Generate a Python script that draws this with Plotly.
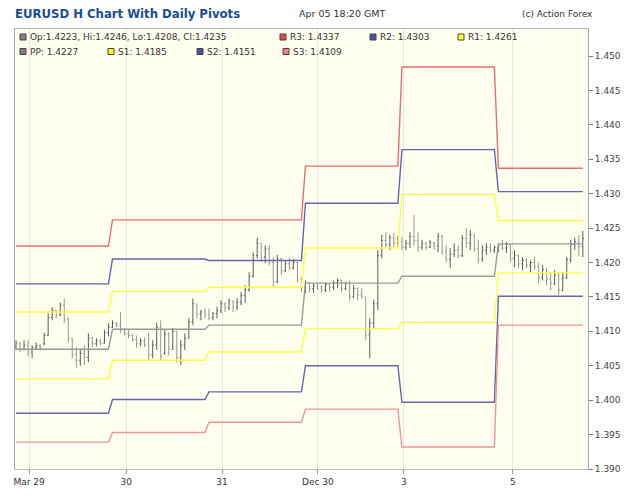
import plotly.graph_objects as go

# ---------------- data ----------------
opens = [
    1.4078,1.4083,1.4074,1.4080,1.4070,1.4076,1.4079,1.4082,1.4094,1.4120,1.4130,1.4124,1.4138,1.4118,1.4090,1.4066,1.4058,1.4068,1.4062,1.4090,1.4082,1.4086,1.4083,1.4098,
    1.4106,1.4112,1.4109,1.4102,1.4097,1.4094,1.4088,1.4082,1.4086,1.4080,1.4066,1.4080,1.4106,1.4068,1.4096,1.4074,1.4100,1.4062,1.4080,1.4090,1.4114,1.4140,1.4125,1.4128,
    1.4124,1.4120,1.4126,1.4130,1.4140,1.4134,1.4144,1.4135,1.4142,1.4152,1.4160,1.4180,1.4210,1.4228,1.4208,1.4220,1.4200,1.4172,1.4205,1.4188,1.4198,1.4192,1.4200,1.4176,
    1.4164,1.4170,1.4162,1.4166,1.4163,1.4160,1.4168,1.4164,1.4171,1.4174,1.4162,1.4170,1.4150,1.4162,1.4153,1.4150,1.4095,1.4112,1.4140,1.4210,1.4232,1.4226,1.4236,1.4228,
    1.4230,1.4222,1.4228,1.4238,1.4232,1.4222,1.4228,1.4222,1.4229,1.4224,1.4238,1.4215,1.4205,1.4212,1.4218,1.4210,1.4235,1.4228,1.4240,1.4220,1.4205,1.4218,1.4222,1.4218,
    1.4222,1.4225,1.4221,1.4226,1.4206,1.4210,1.4198,1.4203,1.4196,1.4200,1.4194,1.4178,1.4190,1.4176,1.4170,1.4182,1.4160,1.4178,1.4204,1.4226,1.4230,1.4223,
]
highs = [
    1.4087,1.4084,1.4087,1.4087,1.4080,1.4084,1.4082,1.4098,1.4126,1.4135,1.4131,1.4142,1.4148,1.4120,1.4090,1.4077,1.4073,1.4080,1.4097,1.4092,1.4090,1.4089,1.4102,1.4112,
    1.4116,1.4113,1.4128,1.4105,1.4102,1.4096,1.4094,1.4090,1.4091,1.4098,1.4087,1.4113,1.4116,1.4102,1.4099,1.4105,1.4100,1.4087,1.4097,1.4119,1.4148,1.4140,1.4131,1.4134,
    1.4133,1.4128,1.4136,1.4145,1.4142,1.4148,1.4145,1.4148,1.4157,1.4167,1.4186,1.4215,1.4236,1.4228,1.4225,1.4225,1.4208,1.4211,1.4207,1.4203,1.4207,1.4205,1.4201,1.4179,
    1.4174,1.4171,1.4169,1.4170,1.4167,1.4171,1.4169,1.4174,1.4177,1.4175,1.4172,1.4174,1.4167,1.4164,1.4163,1.4150,1.4119,1.4146,1.4218,1.4240,1.4244,1.4240,1.4243,1.4238,
    1.4237,1.4233,1.4244,1.4269,1.4244,1.4233,1.4230,1.4233,1.4230,1.4243,1.4240,1.4225,1.4221,1.4228,1.4225,1.4240,1.4250,1.4247,1.4241,1.4233,1.4225,1.4228,1.4228,1.4225,
    1.4228,1.4233,1.4230,1.4226,1.4218,1.4211,1.4208,1.4206,1.4203,1.4208,1.4200,1.4196,1.4192,1.4186,1.4189,1.4185,1.4186,1.4208,1.4233,1.4236,1.4240,1.4246,
]
lows = [
    1.4073,1.4070,1.4072,1.4064,1.4061,1.4073,1.4072,1.4080,1.4093,1.4116,1.4119,1.4122,1.4112,1.4084,1.4061,1.4047,1.4050,1.4051,1.4055,1.4077,1.4078,1.4080,1.4082,1.4093,
    1.4105,1.4106,1.4098,1.4094,1.4090,1.4085,1.4076,1.4078,1.4077,1.4058,1.4061,1.4073,1.4058,1.4066,1.4065,1.4073,1.4055,1.4051,1.4073,1.4090,1.4109,1.4119,1.4116,1.4119,
    1.4116,1.4116,1.4119,1.4126,1.4128,1.4131,1.4128,1.4131,1.4138,1.4141,1.4158,1.4178,1.4206,1.4201,1.4199,1.4196,1.4164,1.4170,1.4182,1.4186,1.4189,1.4190,1.4171,1.4157,
    1.4155,1.4157,1.4156,1.4160,1.4156,1.4157,1.4158,1.4160,1.4163,1.4157,1.4160,1.4145,1.4148,1.4145,1.4148,1.4087,1.4061,1.4104,1.4131,1.4206,1.4221,1.4218,1.4221,1.4222,
    1.4218,1.4218,1.4221,1.4225,1.4215,1.4218,1.4218,1.4221,1.4218,1.4215,1.4211,1.4200,1.4192,1.4208,1.4206,1.4208,1.4221,1.4218,1.4215,1.4199,1.4201,1.4211,1.4214,1.4214,
    1.4215,1.4218,1.4214,1.4201,1.4193,1.4192,1.4189,1.4192,1.4186,1.4189,1.4170,1.4174,1.4167,1.4160,1.4167,1.4153,1.4158,1.4176,1.4200,1.4218,1.4209,1.4208,
]
closes = [
    1.4083,1.4074,1.4080,1.4070,1.4076,1.4079,1.4076,1.4094,1.4120,1.4130,1.4124,1.4138,1.4118,1.4090,1.4066,1.4058,1.4068,1.4062,1.4090,1.4082,1.4086,1.4083,1.4098,1.4106,
    1.4112,1.4109,1.4102,1.4097,1.4094,1.4088,1.4082,1.4086,1.4080,1.4066,1.4080,1.4106,1.4064,1.4096,1.4074,1.4100,1.4062,1.4080,1.4090,1.4114,1.4140,1.4125,1.4128,1.4124,
    1.4120,1.4126,1.4130,1.4140,1.4134,1.4144,1.4135,1.4142,1.4152,1.4160,1.4180,1.4210,1.4228,1.4208,1.4220,1.4200,1.4172,1.4205,1.4188,1.4198,1.4192,1.4200,1.4176,1.4164,
    1.4170,1.4162,1.4166,1.4163,1.4160,1.4168,1.4164,1.4171,1.4174,1.4162,1.4170,1.4150,1.4162,1.4153,1.4150,1.4095,1.4112,1.4140,1.4210,1.4232,1.4226,1.4236,1.4228,1.4230,
    1.4222,1.4228,1.4238,1.4232,1.4222,1.4228,1.4222,1.4229,1.4224,1.4238,1.4215,1.4205,1.4212,1.4218,1.4210,1.4235,1.4228,1.4240,1.4220,1.4205,1.4218,1.4222,1.4218,1.4222,
    1.4225,1.4221,1.4226,1.4206,1.4210,1.4198,1.4203,1.4196,1.4200,1.4194,1.4178,1.4190,1.4176,1.4170,1.4182,1.4160,1.4178,1.4204,1.4226,1.4230,1.4223,1.4235,
]

bars_per_day = [24, 24, 24, 24, 24, 22]
R3 = [1.4224, 1.4262, 1.4262, 1.4340, 1.4484, 1.4337]
R2 = [1.4169, 1.4205, 1.4203, 1.4286, 1.4364, 1.4303]
R1 = [1.4128, 1.4158, 1.4164, 1.4221, 1.4299, 1.4261]
PP = [1.4074, 1.4103, 1.4109, 1.4170, 1.4180, 1.4227]
S1 = [1.4031, 1.4058, 1.4070, 1.4104, 1.4113, 1.4185]
S2 = [1.3981, 1.4001, 1.4012, 1.4050, 1.3997, 1.4151]
S3 = [1.3939, 1.3953, 1.3968, 1.3987, 1.3932, 1.4109]

x_tick_labels = ["Mar 29", "30", "31", "Dec 30", "3", "5"]
x_tick_bars = [3.25, 27.4, 51.25, 75.1, 96.5, 123.6]
y_ticks = [1.390, 1.395, 1.400, 1.405, 1.410, 1.415, 1.420, 1.425,
           1.430, 1.435, 1.440, 1.445, 1.450]

title_text = "EURUSD H Chart With Daily Pivots"
time_text = "Apr 05 18:20 GMT"
credit_text = "(c) Action Forex"

# ---------------- layout helpers ----------------
W, H = 625, 499
ML, MR, MT, MB = 15, 37, 29, 30
PW, PH = W - ML - MR, H - MT - MB

def fx(px):
    return (px - ML) / PW

def fy(py):
    return (H - MB - py) / PH

idx = list(range(len(closes)))

def per_bar(vals):
    out = []
    for v, n in zip(vals, bars_per_day):
        out += [v] * n
    return out

FONT = "DejaVu Sans, Verdana, sans-serif"

fig = go.Figure()

pivot_styles = [
    ("R3", R3, "#ec6e6e", "#e04848"),
    ("R2", R2, "#6565b2", "#5050a0"),
    ("R1", R1, "#ffff3c", "#ffff20"),
    ("PP", PP, "#9a9a9a", "#808080"),
    ("S1", S1, "#ffff3c", "#ffff20"),
    ("S2", S2, "#6565b2", "#5050a0"),
    ("S3", S3, "#f29494", "#f08080"),
]
for name, vals, col, _ in pivot_styles:
    fig.add_trace(go.Scatter(x=idx, y=per_bar(vals), mode="lines",
                             line=dict(color=col, width=1.4),
                             showlegend=False, hoverinfo="skip"))

fig.add_trace(go.Ohlc(
    x=idx, open=opens, high=highs, low=lows, close=closes,
    increasing=dict(line=dict(color="#5a5a66", width=1)),
    decreasing=dict(line=dict(color="#959595", width=1)),
    tickwidth=0.3, showlegend=False))

x0 = (ML - 16) / 4.02
x1 = (ML + PW - 16) / 4.02
ytop = 1.450 + (56 - MT) / 6880.0

fig.update_layout(
    width=W, height=H,
    margin=dict(l=ML, r=MR, t=MT, b=MB, pad=0, autoexpand=False),
    paper_bgcolor="white", plot_bgcolor="#fffff0",
    font=dict(family=FONT, size=9, color="#333333"),
    showlegend=False,
    xaxis=dict(range=[x0, x1], tickmode="array", tickvals=x_tick_bars,
               ticktext=x_tick_labels, showgrid=True, gridcolor="#e8e8de",
               gridwidth=1, ticks="outside", ticklen=4, tickcolor="#999999",
               showline=True, linecolor="#b8b8b8", mirror=True,
               zeroline=False, rangeslider=dict(visible=False),
               automargin=False,
               tickfont=dict(size=9, color="#333333")),
    yaxis=dict(range=[1.390, ytop], side="right", tickmode="array",
               tickvals=y_ticks, tickformat=".3f", showgrid=False,
               ticks="outside", ticklen=4, tickcolor="#777777",
               showline=True, linecolor="#a8a8a8", mirror=True,
               zeroline=False, automargin=False,
               tickfont=dict(size=9, color="#444444")),
)

ann = []
shapes = []
ann.append(dict(text="<b>" + title_text + "</b>", x=fx(13), y=fy(14),
                xref="paper", yref="paper", xanchor="left", yanchor="middle",
                showarrow=False, font=dict(size=11.7, color="#1a4c9c", family=FONT)))
ann.append(dict(text=time_text, x=fx(297), y=fy(14), xref="paper", yref="paper",
                xanchor="left", yanchor="middle", showarrow=False,
                font=dict(size=9.5, color="#333333", family=FONT)))
ann.append(dict(text=credit_text, x=fx(520), y=fy(14), xref="paper", yref="paper",
                xanchor="left", yanchor="middle", showarrow=False,
                font=dict(size=9, color="#333333", family=FONT)))

last = len(closes) - 1
ohlc_text = "Op:%.4f, Hi:%.4f, Lo:%.4f, Cl:%.4f" % (opens[last], highs[last], lows[last], closes[last])
style = {n: (v, fill) for n, v, _, fill in pivot_styles}
legend_items = [
    (20, 37, ohlc_text, "#808080"),
    (280, 37, "R3: %.4f" % R3[-1], style["R3"][1]),
    (370, 37, "R2: %.4f" % R2[-1], style["R2"][1]),
    (458, 37, "R1: %.4f" % R1[-1], style["R1"][1]),
    (20, 51.5, "PP: %.4f" % PP[-1], style["PP"][1]),
    (108, 51.5, "S1: %.4f" % S1[-1], style["S1"][1]),
    (197, 51.5, "S2: %.4f" % S2[-1], style["S2"][1]),
    (283, 51.5, "S3: %.4f" % S3[-1], style["S3"][1]),
]
for px, py, txt, fill in legend_items:
    shapes.append(dict(type="rect", xref="paper", yref="paper",
                       x0=fx(px), x1=fx(px + 6), y0=fy(py + 3), y1=fy(py - 3),
                       fillcolor=fill, line=dict(color="#444444", width=1)))
    ann.append(dict(text=txt, x=fx(px + 8), y=fy(py), xref="paper", yref="paper",
                    xanchor="left", yanchor="middle", showarrow=False,
                    font=dict(size=9, color="#333333", family=FONT)))

fig.update_layout(annotations=ann, shapes=shapes)
fig.write_html("out.html")
